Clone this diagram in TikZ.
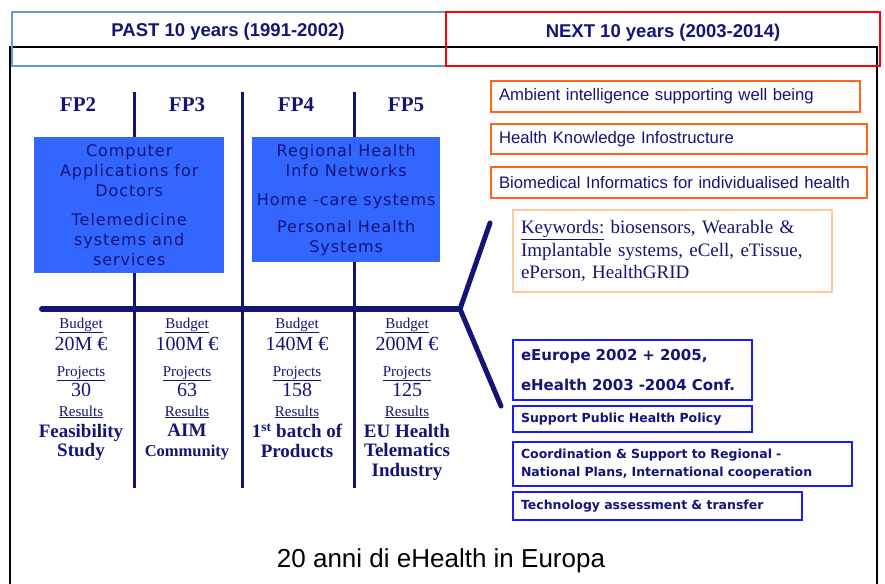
\documentclass[tikz,border=0pt]{standalone}
\usepackage{fontspec}
\setmainfont{Liberation Serif}
\setsansfont{Liberation Sans}
\newfontfamily\verdfont[LetterSpace=6]{DejaVu Sans}
\newfontfamily\verdplain{DejaVu Sans}
\usepackage{xcolor}
\usepackage{tikz}

\definecolor{navy}{RGB}{20,20,120}
\definecolor{fillblue}{RGB}{51,102,255}
\definecolor{boxblue}{RGB}{26,26,255}
\definecolor{orng}{RGB}{255,102,26}
\definecolor{peach}{RGB}{255,204,153}
\definecolor{headblue}{RGB}{102,153,204}
\newcommand{\setfs}[2]{\fontsize{#1}{#2}\selectfont}

\begin{document}
\begin{tikzpicture}[x=1pt,y=-1pt,
  fplabel/.style={text=navy,font=\setfs{21}{25}\bfseries},
  info/.style={text=navy,inner sep=0pt,anchor=base},
  bluefill/.style={fill=fillblue,text=navy,font=\verdfont\setfs{16}{20},align=center,inner sep=0pt,anchor=north west},
  obox/.style={draw=orng,line width=2pt,text=navy,font=\sffamily\setfs{16.7}{20},anchor=north west,inner xsep=8pt,inner ysep=0pt,align=left},
  bbox/.style={draw=boxblue,line width=2pt,text=navy,font=\verdplain\bfseries\setfs{12.5}{18},anchor=north west,inner xsep=8pt,inner ysep=0pt,align=left}]
  \useasboundingbox (0,0) rectangle (885,583);
  % frame and header
  \draw[line width=1.5pt] (10,590) |- (877,47) -- (877,590);
  \draw[headblue,line width=2pt] (12,12) rectangle (446,66);
  \draw[red,line width=2.5pt] (446,12) rectangle (880,66);
  \node (past) [text=navy,font=\sffamily\bfseries\setfs{18.5}{22}] at (228,32) {PAST 10 years (1991-2002)};
  \node (next) [text=navy,font=\sffamily\bfseries\setfs{18.5}{22}] at (663,33) {NEXT 10 years (2003-2014)};

  % timeline
  \foreach \x in {134,242,354} \draw[navy,line width=3pt] (\x,92)--(\x,488);
  \draw[navy,line width=6pt,line cap=round] (42,309)--(460,309);
  \draw[navy,line width=5pt,line cap=round,line join=round] (490,223)--(460,309)--(501,406);
  \foreach \x/\n in {78/2,187/3,296/4,406/5}
     \node (fp\n) [fplabel] at (\x,105) {FP\n};

  \node (early) [bluefill,minimum width=190,minimum height=136] at (34,137)
     {Computer\\Applications for\\Doctors\\[9pt]Telemedicine\\systems and\\services};
  \node (later) [bluefill,minimum width=188,minimum height=125] at (252,137)
     {Regional Health\\Info Networks\\[9pt]Home -care systems\\[7pt]Personal Health\\Systems};

  % budget, projects, results
  \foreach \x/\n/\bud/\proj/\res in {81/1/20/30/{Feasibility\\Study},
        187/2/100/63/{AIM\\{\setfs{16.5}{19.5}Community}},
        297/3/140/158/{1\textsuperscript{st} batch of\\Products},
        407/4/200/125/{EU Health\\Telematics\\Industry}} {
     \node (bud\n) [info,font=\setfs{15}{18}] at (\x,328) {\underline{Budget}};
     \node (eur\n) [info,font=\setfs{20}{24}] at (\x,350) {\bud M €};
     \node (prj\n) [info,font=\setfs{15}{18}] at (\x,376) {\underline{Projects}};
     \node (num\n) [info,font=\setfs{20}{24}] at (\x,396) {\proj};
     \node (rsl\n) [info,font=\setfs{15}{18}] at (\x,416) {\underline{Results}};
     \node (out\n) [info,anchor=north,align=center,font=\setfs{19}{19.5}\bfseries] at (\x,424) {\res};
  }

  % next ten years
  \node (ambient) [obox,text width=353,minimum height=31] at (490,80) {Ambient intelligence supporting well being};
  \node (knowl) [obox,text width=360,minimum height=30] at (490,123) {Health Knowledge Infostructure};
  \node (biomed) [obox,text width=360,minimum height=31] at (490,166) {Biomedical Informatics for individualised health};
  \node (keys) [draw=peach,line width=2pt,text=navy,anchor=north west,align=left,inner xsep=8pt,inner ysep=0pt,
     text width=303,minimum height=82,font=\setfs{19}{22.5}] at (512,209)
     {\underline{Keywords:} biosensors, Wearable \&\\Implantable systems, eCell, eTissue,\\ePerson, HealthGRID};

  \node (eeurope) [bbox,text width=223,minimum height=60,font=\verdplain\bfseries\setfs{15}{30}] at (512,339)
     {eEurope 2002 + 2005,\\eHealth 2003 -2004 Conf.};
  \node (policy) [bbox,text width=223,minimum height=26] at (512,405) {Support Public Health Policy};
  \node (coord) [bbox,text width=323,minimum height=44] at (512,441)
     {Coordination \& Support to Regional -\\National Plans, International cooperation};
  \node (tech) [bbox,text width=273,minimum height=28] at (512,491) {Technology assessment \& transfer};

  \node (title) [font=\sffamily\setfs{26}{30}] at (441,561) {20 anni di eHealth in Europa};
\end{tikzpicture}
\end{document}
